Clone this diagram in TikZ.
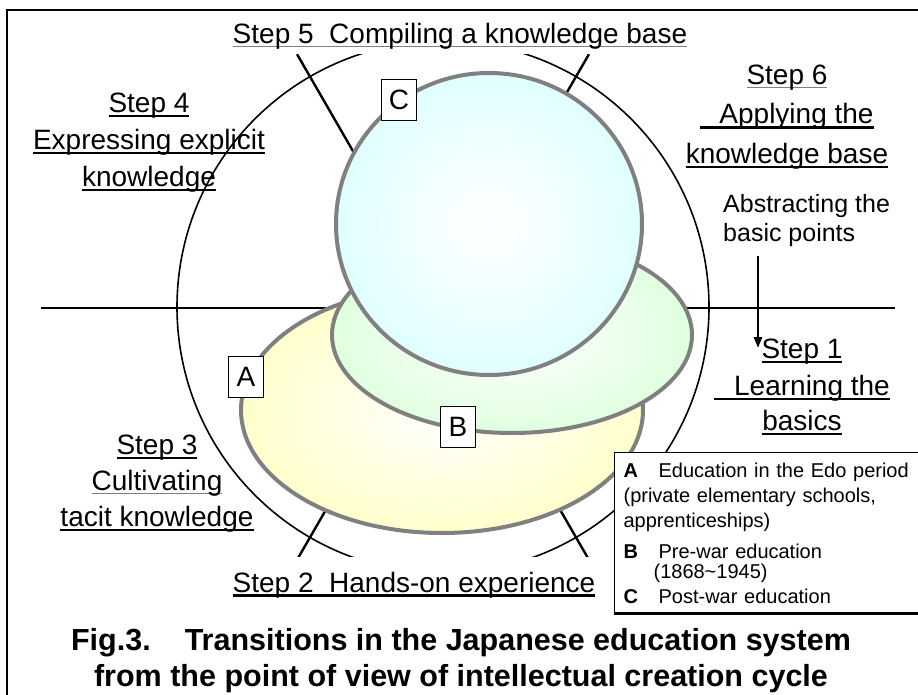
\documentclass[tikz,border=0pt]{standalone}
\usepackage{fontspec}
\setmainfont{Liberation Sans}
\usepackage{tikz}
\usetikzlibrary{arrows.meta}
\usetikzlibrary{positioning}

\definecolor{rimgray}{RGB}{128,128,128}

\newsavebox{\ulbox}
% thick black underline / thin grey underline
\newcommand{\ulk}[1]{\sbox{\ulbox}{#1}\rlap{\rule[-5pt]{\wd\ulbox}{2.6pt}}\usebox{\ulbox}}
\newcommand{\ulg}[1]{\sbox{\ulbox}{#1}\rlap{\textcolor{rimgray}{\rule[-3.5pt]{\wd\ulbox}{1pt}}}\usebox{\ulbox}}

\begin{document}
\begin{tikzpicture}[x=1pt,y=-1pt,
	cycle line/.style={line width=1.6pt},
	divider/.style={line width=2.4pt},
	era/.style={draw=rimgray,line width=4pt,shading=radial,inner color=white},
	era box/.style={draw,line width=1.2pt,fill=white,minimum width=35pt,minimum height=41pt,inner sep=0pt,font=\fontsize{28}{34}\selectfont},
	step text/.style={align=center,inner sep=0pt,font=\fontsize{28}{37}\selectfont},
	legendbox/.style={draw,line width=1.2pt,fill=white,text width=310pt,align=left,inner xsep=9pt,inner ysep=10pt,font=\fontsize{20}{25}\selectfont}]
	
	\useasboundingbox (0,0) rectangle (918,695);
	\draw[line width=1.5pt] (7,695) -- (7,10) -- (918,10);
	
	% the six steps of the cycle
	\coordinate (hub) at (443,307);
	\draw[divider] (41,308) -- (895,308);
	\draw[cycle line] (hub) circle[radius=266];
	\foreach \a in {60,120,240,300}
		\draw[divider] ([shift={(\a:150)}]hub) -- ([shift={(\a:292)}]hub);
	
	% eras A, B, C
	\path[era,outer color=yellow!20] (442,410) ellipse[x radius=201,y radius=123];
	\path[era,outer color=green!12] (512,335) ellipse[x radius=180,y radius=98];
	\path[era,outer color=cyan!12] (489,224) ellipse[x radius=153,y radius=151];
	
	\node[era box] (eraA) at (246,377) {A};
	\node[era box] (eraB) at (458,427) {B};
	\node[era box] (eraC) at (399,100) {C};
	
	\node[step text,fill=white,anchor=base,text depth=10pt,inner xsep=5pt] (step5) at (460,44) {\ulg{Step 5\ \ Compiling a knowledge base}};
	\node[step text,anchor=north] (step4) at (149,92.5) {\ulk{Step 4}\\\ulk{Expressing explicit}\\\ulk{knowledge}};
	\node[step text,anchor=north] (step6) at (787,64.5) {\ulg{Step 6}\\[2.5pt]\ulk{\kern19pt Applying the}\\[2.5pt]\ulk{knowledge base}};
	\node[step text,anchor=north] (step1) at (802,338.5) {\ulk{Step 1}\\\ulk{\kern20pt Learning the}\\[-2pt]\ulk{basics}};
	\node[step text,anchor=north] (step3) at (157,434.5) {\ulk{Step 3}\\[-1pt]\ulg{Cultivating}\\[-1pt]\ulk{tacit knowledge}};
	\node[step text,fill=white,anchor=base,text height=35pt,text depth=8pt,inner xsep=6pt] (step2) at (414,592) {\ulk{Step 2\ \ Hands-on experience}};
	
	\node[align=left,inner sep=0pt,text depth=14pt,anchor=north west,font=\fontsize{25}{29}\selectfont] (abstract) at (723,194) {Abstracting the\\basic points};
	\coordinate (landing) at (758,348);
	\draw[line width=2.5pt,-{Triangle[length=11pt,width=8pt]}] (abstract.south -| landing) -- (landing);
	
	\node[legendbox,anchor=north west] (legend) at (614,452) {%
		\makebox[35pt][l]{\textbf{A}}Education in the Edo period\\
		(private elementary schools,\\
		apprenticeships)\\[6pt]
		\makebox[35pt][l]{\textbf{B}}Pre-war education\\[-5pt]
		\hspace*{30pt}(1868\textasciitilde 1945)\\
		\makebox[35pt][l]{\textbf{C}}Post-war education};
	\draw[line width=3pt] (legend.south west) -- (legend.south east);
	
	\node[anchor=north,align=center,inner sep=0pt,font=\bfseries\fontsize{30.5}{36}\selectfont] (caption) at (461,628) {Fig.3.\hspace{34pt}Transitions in the Japanese education system\\from the point of view of intellectual creation cycle};
\end{tikzpicture}
\end{document}
